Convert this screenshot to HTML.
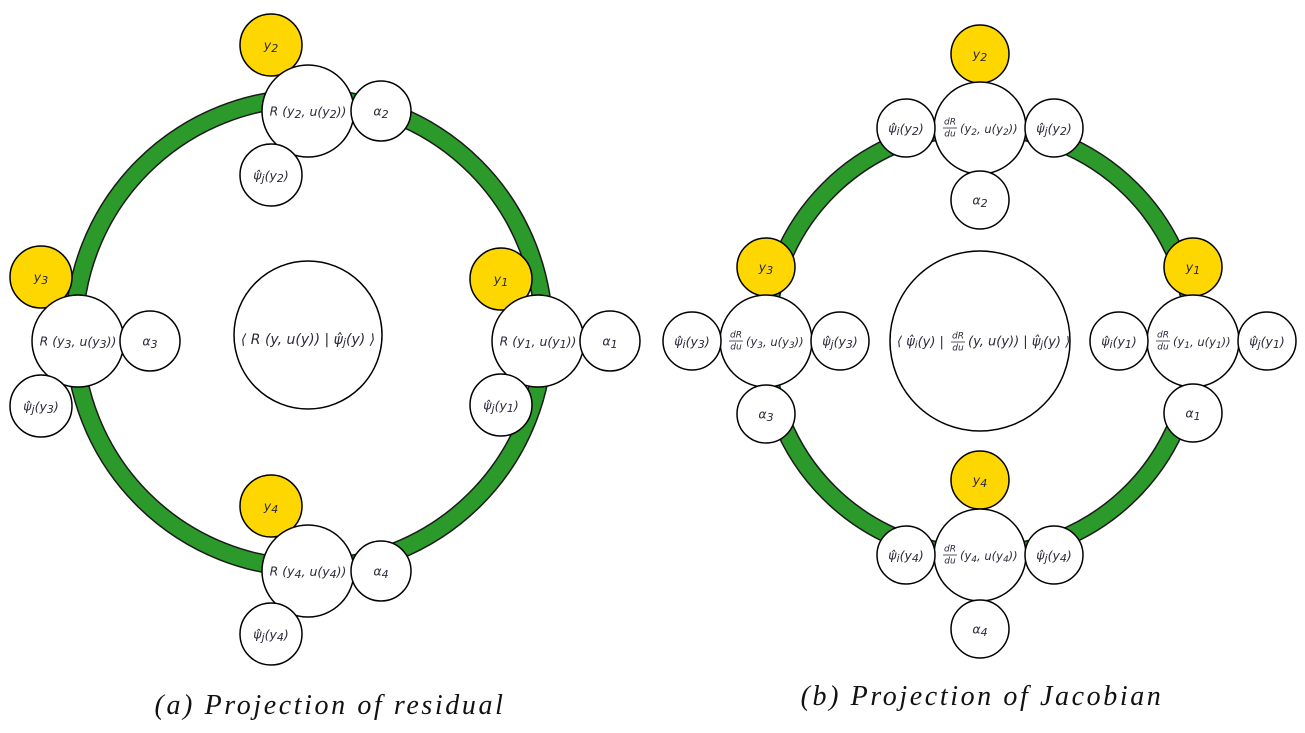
<!DOCTYPE html>
<html><head><meta charset="utf-8"><style>
html,body{margin:0;padding:0;background:#fff;}
svg{display:block;}
text{font-family:"DejaVu Sans","Liberation Sans",sans-serif;fill:#2a2a3a;}
.l{font-size:12.5px;font-style:italic;}
.s{font-size:11px;}
.cap{font-family:"Liberation Serif",serif;font-style:italic;font-size:28px;fill:#111;letter-spacing:2.6px;}
</style></head><body>
<svg width="1305" height="733" viewBox="0 0 1305 733" xmlns="http://www.w3.org/2000/svg">
<g fill="none">
<circle cx="309" cy="333" r="235" stroke="#1a1a1a" stroke-width="19"/>
<circle cx="309" cy="333" r="235" stroke="#2b9a2b" stroke-width="16"/>
<circle cx="980" cy="341" r="214" stroke="#1a1a1a" stroke-width="19"/>
<circle cx="980" cy="341" r="214" stroke="#2b9a2b" stroke-width="16"/>
</g>
<g stroke="#000" stroke-width="1.5" fill="#fff">
<circle cx="308" cy="335" r="74"/>
<circle cx="271" cy="45" r="31" fill="#ffd700"/><circle cx="308" cy="111" r="46"/><circle cx="381" cy="111" r="30"/><circle cx="271" cy="175" r="31"/>
<circle cx="41" cy="277" r="31" fill="#ffd700"/><circle cx="78" cy="341" r="46"/><circle cx="150" cy="341" r="30"/><circle cx="41" cy="406" r="31"/>
<circle cx="501" cy="279" r="31" fill="#ffd700"/><circle cx="538" cy="341" r="46"/><circle cx="610" cy="341" r="30"/><circle cx="501" cy="405" r="31"/>
<circle cx="271" cy="506" r="31" fill="#ffd700"/><circle cx="308" cy="571" r="46"/><circle cx="381" cy="571" r="30"/><circle cx="271" cy="634" r="31"/>
<circle cx="980" cy="341" r="90"/>
<circle cx="980" cy="54" r="29" fill="#ffd700"/><circle cx="980" cy="128" r="46"/><circle cx="906" cy="128" r="29"/><circle cx="1054" cy="128" r="29"/><circle cx="980" cy="200" r="29"/>
<circle cx="766" cy="267" r="29" fill="#ffd700"/><circle cx="766" cy="341" r="46"/><circle cx="692" cy="341" r="29"/><circle cx="840" cy="341" r="29"/><circle cx="766" cy="414" r="29"/>
<circle cx="1193" cy="267" r="29" fill="#ffd700"/><circle cx="1193" cy="341" r="46"/><circle cx="1119" cy="341" r="29"/><circle cx="1267" cy="341" r="29"/><circle cx="1193" cy="413" r="29"/>
<circle cx="980" cy="480" r="29" fill="#ffd700"/><circle cx="980" cy="555" r="46"/><circle cx="906" cy="555" r="29"/><circle cx="1054" cy="555" r="29"/><circle cx="980" cy="629" r="29"/>
</g>
<g class="l" text-anchor="middle" dominant-baseline="middle">
<text x="271" y="46">y<tspan class="s" dy="3">2</tspan></text>
<text x="308" y="112">R (y<tspan class="s" dy="3">2</tspan><tspan dy="-3">, u(y</tspan><tspan class="s" dy="3">2</tspan><tspan dy="-3">))</tspan></text>
<text x="381" y="112">α<tspan class="s" dy="3">2</tspan></text>
<text x="271" y="176">ψ̂<tspan class="s" dy="3">j</tspan><tspan dy="-3">(y</tspan><tspan class="s" dy="3">2</tspan><tspan dy="-3">)</tspan></text>
<text x="41" y="278">y<tspan class="s" dy="3">3</tspan></text>
<text x="78" y="342">R (y<tspan class="s" dy="3">3</tspan><tspan dy="-3">, u(y</tspan><tspan class="s" dy="3">3</tspan><tspan dy="-3">))</tspan></text>
<text x="150" y="342">α<tspan class="s" dy="3">3</tspan></text>
<text x="41" y="407">ψ̂<tspan class="s" dy="3">j</tspan><tspan dy="-3">(y</tspan><tspan class="s" dy="3">3</tspan><tspan dy="-3">)</tspan></text>
<text x="501" y="280">y<tspan class="s" dy="3">1</tspan></text>
<text x="538" y="342">R (y<tspan class="s" dy="3">1</tspan><tspan dy="-3">, u(y</tspan><tspan class="s" dy="3">1</tspan><tspan dy="-3">))</tspan></text>
<text x="610" y="342">α<tspan class="s" dy="3">1</tspan></text>
<text x="501" y="406">ψ̂<tspan class="s" dy="3">j</tspan><tspan dy="-3">(y</tspan><tspan class="s" dy="3">1</tspan><tspan dy="-3">)</tspan></text>
<text x="271" y="507">y<tspan class="s" dy="3">4</tspan></text>
<text x="308" y="572">R (y<tspan class="s" dy="3">4</tspan><tspan dy="-3">, u(y</tspan><tspan class="s" dy="3">4</tspan><tspan dy="-3">))</tspan></text>
<text x="381" y="572">α<tspan class="s" dy="3">4</tspan></text>
<text x="271" y="635">ψ̂<tspan class="s" dy="3">j</tspan><tspan dy="-3">(y</tspan><tspan class="s" dy="3">4</tspan><tspan dy="-3">)</tspan></text>
<text x="308" y="340" style="font-size:14px">⟨ R (y, u(y)) | ψ̂<tspan class="s" dy="3">j</tspan><tspan dy="-3">(y) ⟩</tspan></text>
<text x="980" y="55">y<tspan class="s" dy="3">2</tspan></text>
<text x="906" y="129">ψ̂<tspan class="s" dy="3">i</tspan><tspan dy="-3">(y</tspan><tspan class="s" dy="3">2</tspan><tspan dy="-3">)</tspan></text>
<text x="1054" y="129">ψ̂<tspan class="s" dy="3">j</tspan><tspan dy="-3">(y</tspan><tspan class="s" dy="3">2</tspan><tspan dy="-3">)</tspan></text>
<text x="980" y="201">α<tspan class="s" dy="3">2</tspan></text>
<text x="766" y="268">y<tspan class="s" dy="3">3</tspan></text>
<text x="692" y="342">ψ̂<tspan class="s" dy="3">i</tspan><tspan dy="-3">(y</tspan><tspan class="s" dy="3">3</tspan><tspan dy="-3">)</tspan></text>
<text x="840" y="342">ψ̂<tspan class="s" dy="3">j</tspan><tspan dy="-3">(y</tspan><tspan class="s" dy="3">3</tspan><tspan dy="-3">)</tspan></text>
<text x="766" y="415">α<tspan class="s" dy="3">3</tspan></text>
<text x="1193" y="268">y<tspan class="s" dy="3">1</tspan></text>
<text x="1119" y="342">ψ̂<tspan class="s" dy="3">i</tspan><tspan dy="-3">(y</tspan><tspan class="s" dy="3">1</tspan><tspan dy="-3">)</tspan></text>
<text x="1267" y="342">ψ̂<tspan class="s" dy="3">j</tspan><tspan dy="-3">(y</tspan><tspan class="s" dy="3">1</tspan><tspan dy="-3">)</tspan></text>
<text x="1193" y="414">α<tspan class="s" dy="3">1</tspan></text>
<text x="980" y="481">y<tspan class="s" dy="3">4</tspan></text>
<text x="906" y="556">ψ̂<tspan class="s" dy="3">i</tspan><tspan dy="-3">(y</tspan><tspan class="s" dy="3">4</tspan><tspan dy="-3">)</tspan></text>
<text x="1054" y="556">ψ̂<tspan class="s" dy="3">j</tspan><tspan dy="-3">(y</tspan><tspan class="s" dy="3">4</tspan><tspan dy="-3">)</tspan></text>
<text x="980" y="630">α<tspan class="s" dy="3">4</tspan></text>
</g>
<g class="l" dominant-baseline="middle">
<g text-anchor="middle">
<text x="950" y="122" style="font-size:9px">dR</text><line x1="943" y1="128" x2="957" y2="128" stroke="#2a2a3a" stroke-width="0.8"/><text x="950" y="134" style="font-size:9px">du</text>
<text x="736" y="335" style="font-size:9px">dR</text><line x1="729" y1="341" x2="743" y2="341" stroke="#2a2a3a" stroke-width="0.8"/><text x="736" y="347" style="font-size:9px">du</text>
<text x="1163" y="335" style="font-size:9px">dR</text><line x1="1156" y1="341" x2="1170" y2="341" stroke="#2a2a3a" stroke-width="0.8"/><text x="1163" y="347" style="font-size:9px">du</text>
<text x="950" y="549" style="font-size:9px">dR</text><line x1="943" y1="555" x2="957" y2="555" stroke="#2a2a3a" stroke-width="0.8"/><text x="950" y="561" style="font-size:9px">du</text>
</g>
<text x="960" y="129" style="font-size:11.5px">(y<tspan dy="3" style="font-size:9px">2</tspan><tspan dy="-3">, u(y</tspan><tspan dy="3" style="font-size:9px">2</tspan><tspan dy="-3">))</tspan></text>
<text x="746" y="342" style="font-size:11.5px">(y<tspan dy="3" style="font-size:9px">3</tspan><tspan dy="-3">, u(y</tspan><tspan dy="3" style="font-size:9px">3</tspan><tspan dy="-3">))</tspan></text>
<text x="1173" y="342" style="font-size:11.5px">(y<tspan dy="3" style="font-size:9px">1</tspan><tspan dy="-3">, u(y</tspan><tspan dy="3" style="font-size:9px">1</tspan><tspan dy="-3">))</tspan></text>
<text x="960" y="556" style="font-size:11.5px">(y<tspan dy="3" style="font-size:9px">4</tspan><tspan dy="-3">, u(y</tspan><tspan dy="3" style="font-size:9px">4</tspan><tspan dy="-3">))</tspan></text>
<text x="897" y="342" style="font-size:13px">⟨ ψ̂<tspan dy="3" style="font-size:10px">i</tspan><tspan dy="-3">(y) |</tspan></text>
<text x="958" y="336" style="font-size:9px" text-anchor="middle">dR</text><line x1="951" y1="342" x2="965" y2="342" stroke="#2a2a3a" stroke-width="0.8"/><text x="958" y="348" style="font-size:9px" text-anchor="middle">du</text>
<text x="968" y="342" style="font-size:13px">(y, u(y)) | ψ̂<tspan dy="3" style="font-size:10px">j</tspan><tspan dy="-3">(y) ⟩</tspan></text>
</g>
<text class="cap" x="330" y="714" text-anchor="middle">(a) Projection of residual</text>
<text class="cap" x="982" y="705" text-anchor="middle">(b) Projection of Jacobian</text>
</svg>
</body></html>
